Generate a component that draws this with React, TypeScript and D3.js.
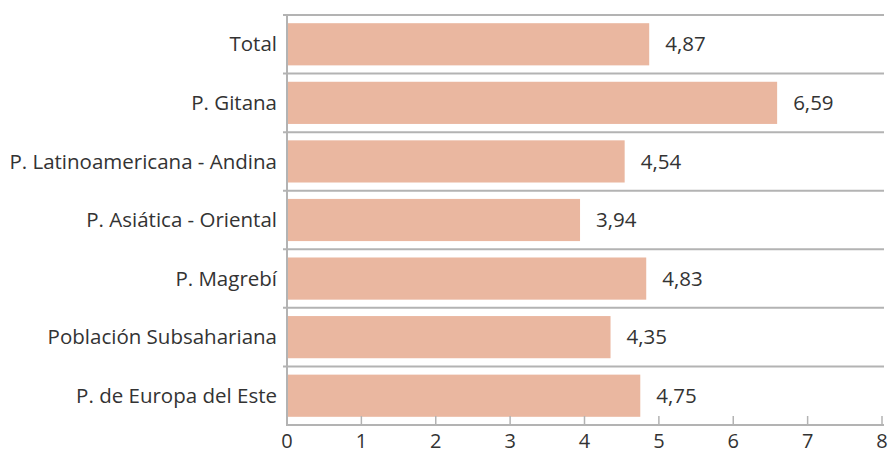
import React, { useEffect, useRef } from "react";
import * as d3 from "d3";

const categories = [
  "Total",
  "P. Gitana",
  "P. Latinoamericana - Andina",
  "P. Asiática - Oriental",
  "P. Magrebí",
  "Población Subsahariana",
  "P. de Europa del Este",
];
const values = [4.87, 6.59, 4.54, 3.94, 4.83, 4.35, 4.75];
const xTicks = [0, 1, 2, 3, 4, 5, 6, 7, 8];

const W = 892;
const H = 454;

export default function App() {
  const svgRef = useRef<SVGSVGElement | null>(null);

  useEffect(() => {
    if (!svgRef.current) return;
    const svg = d3.select(svgRef.current);
    svg.selectAll("*").remove();

    const left = 287;
    const right = 882;
    const top = 15;
    const bottom = 425;
    const font = "'Open Sans', sans-serif";
    const lineColor = "#b3b3b3";
    const textColor = "#333";

    const x = d3.scaleLinear().domain([0, 8]).range([left, right]);
    const y = d3
      .scaleBand<string>()
      .domain(categories)
      .range([top, bottom])
      .paddingInner(0.28)
      .paddingOuter(0.14);
    const step = y.step();

    // row separators
    const bounds = d3.range(categories.length).map((i) => top + i * step);
    svg
      .selectAll(".sep")
      .data(bounds)
      .enter()
      .append("line")
      .attr("x1", left - 4)
      .attr("x2", right + 2)
      .attr("y1", (d) => d)
      .attr("y2", (d) => d)
      .attr("stroke", lineColor)
      .attr("stroke-width", 2);

    // bars
    svg
      .selectAll(".bar")
      .data(values)
      .enter()
      .append("rect")
      .attr("x", x(0))
      .attr("y", (_, i) => y(categories[i])!)
      .attr("width", (d) => x(d) - x(0))
      .attr("height", y.bandwidth())
      .attr("fill", "#eab7a0");

    // value labels
    svg
      .selectAll(".val")
      .data(values)
      .enter()
      .append("text")
      .attr("x", (d) => x(d) + 16)
      .attr("y", (_, i) => y(categories[i])! + y.bandwidth() / 2)
      .attr("dy", "0.35em")
      .attr("fill", textColor)
      .style("font-family", font)
      .style("font-size", "20.5px")
      .text((d) => d.toFixed(2).replace(".", ","));

    // category labels
    svg
      .selectAll(".cat")
      .data(categories)
      .enter()
      .append("text")
      .attr("x", left - 10)
      .attr("y", (d) => y(d)! + y.bandwidth() / 2)
      .attr("dy", "0.35em")
      .attr("text-anchor", "end")
      .attr("fill", textColor)
      .style("font-family", font)
      .style("font-size", "20.5px")
      .text((d) => d);

    // left axis line
    svg
      .append("line")
      .attr("x1", left)
      .attr("x2", left)
      .attr("y1", top)
      .attr("y2", bottom)
      .attr("stroke", lineColor)
      .attr("stroke-width", 2);

    // bottom axis
    svg
      .append("line")
      .attr("x1", left - 1)
      .attr("x2", right + 2)
      .attr("y1", bottom)
      .attr("y2", bottom)
      .attr("stroke", lineColor)
      .attr("stroke-width", 2);

    svg
      .selectAll(".tick")
      .data(xTicks)
      .enter()
      .append("line")
      .attr("x1", (d) => x(d))
      .attr("x2", (d) => x(d))
      .attr("y1", bottom)
      .attr("y2", bottom - 9)
      .attr("stroke", lineColor)
      .attr("stroke-width", 1.5);

    svg
      .selectAll(".tl")
      .data(xTicks)
      .enter()
      .append("text")
      .attr("x", (d) => x(d))
      .attr("y", 448)
      .attr("text-anchor", "middle")
      .attr("fill", textColor)
      .style("font-family", font)
      .style("font-size", "20px")
      .text((d) => d);
  }, []);

  return (
    <svg
      ref={svgRef}
      width={W}
      height={H}
      style={{ position: "absolute", left: 0, top: 0, background: "#fff" }}
    />
  );
}
